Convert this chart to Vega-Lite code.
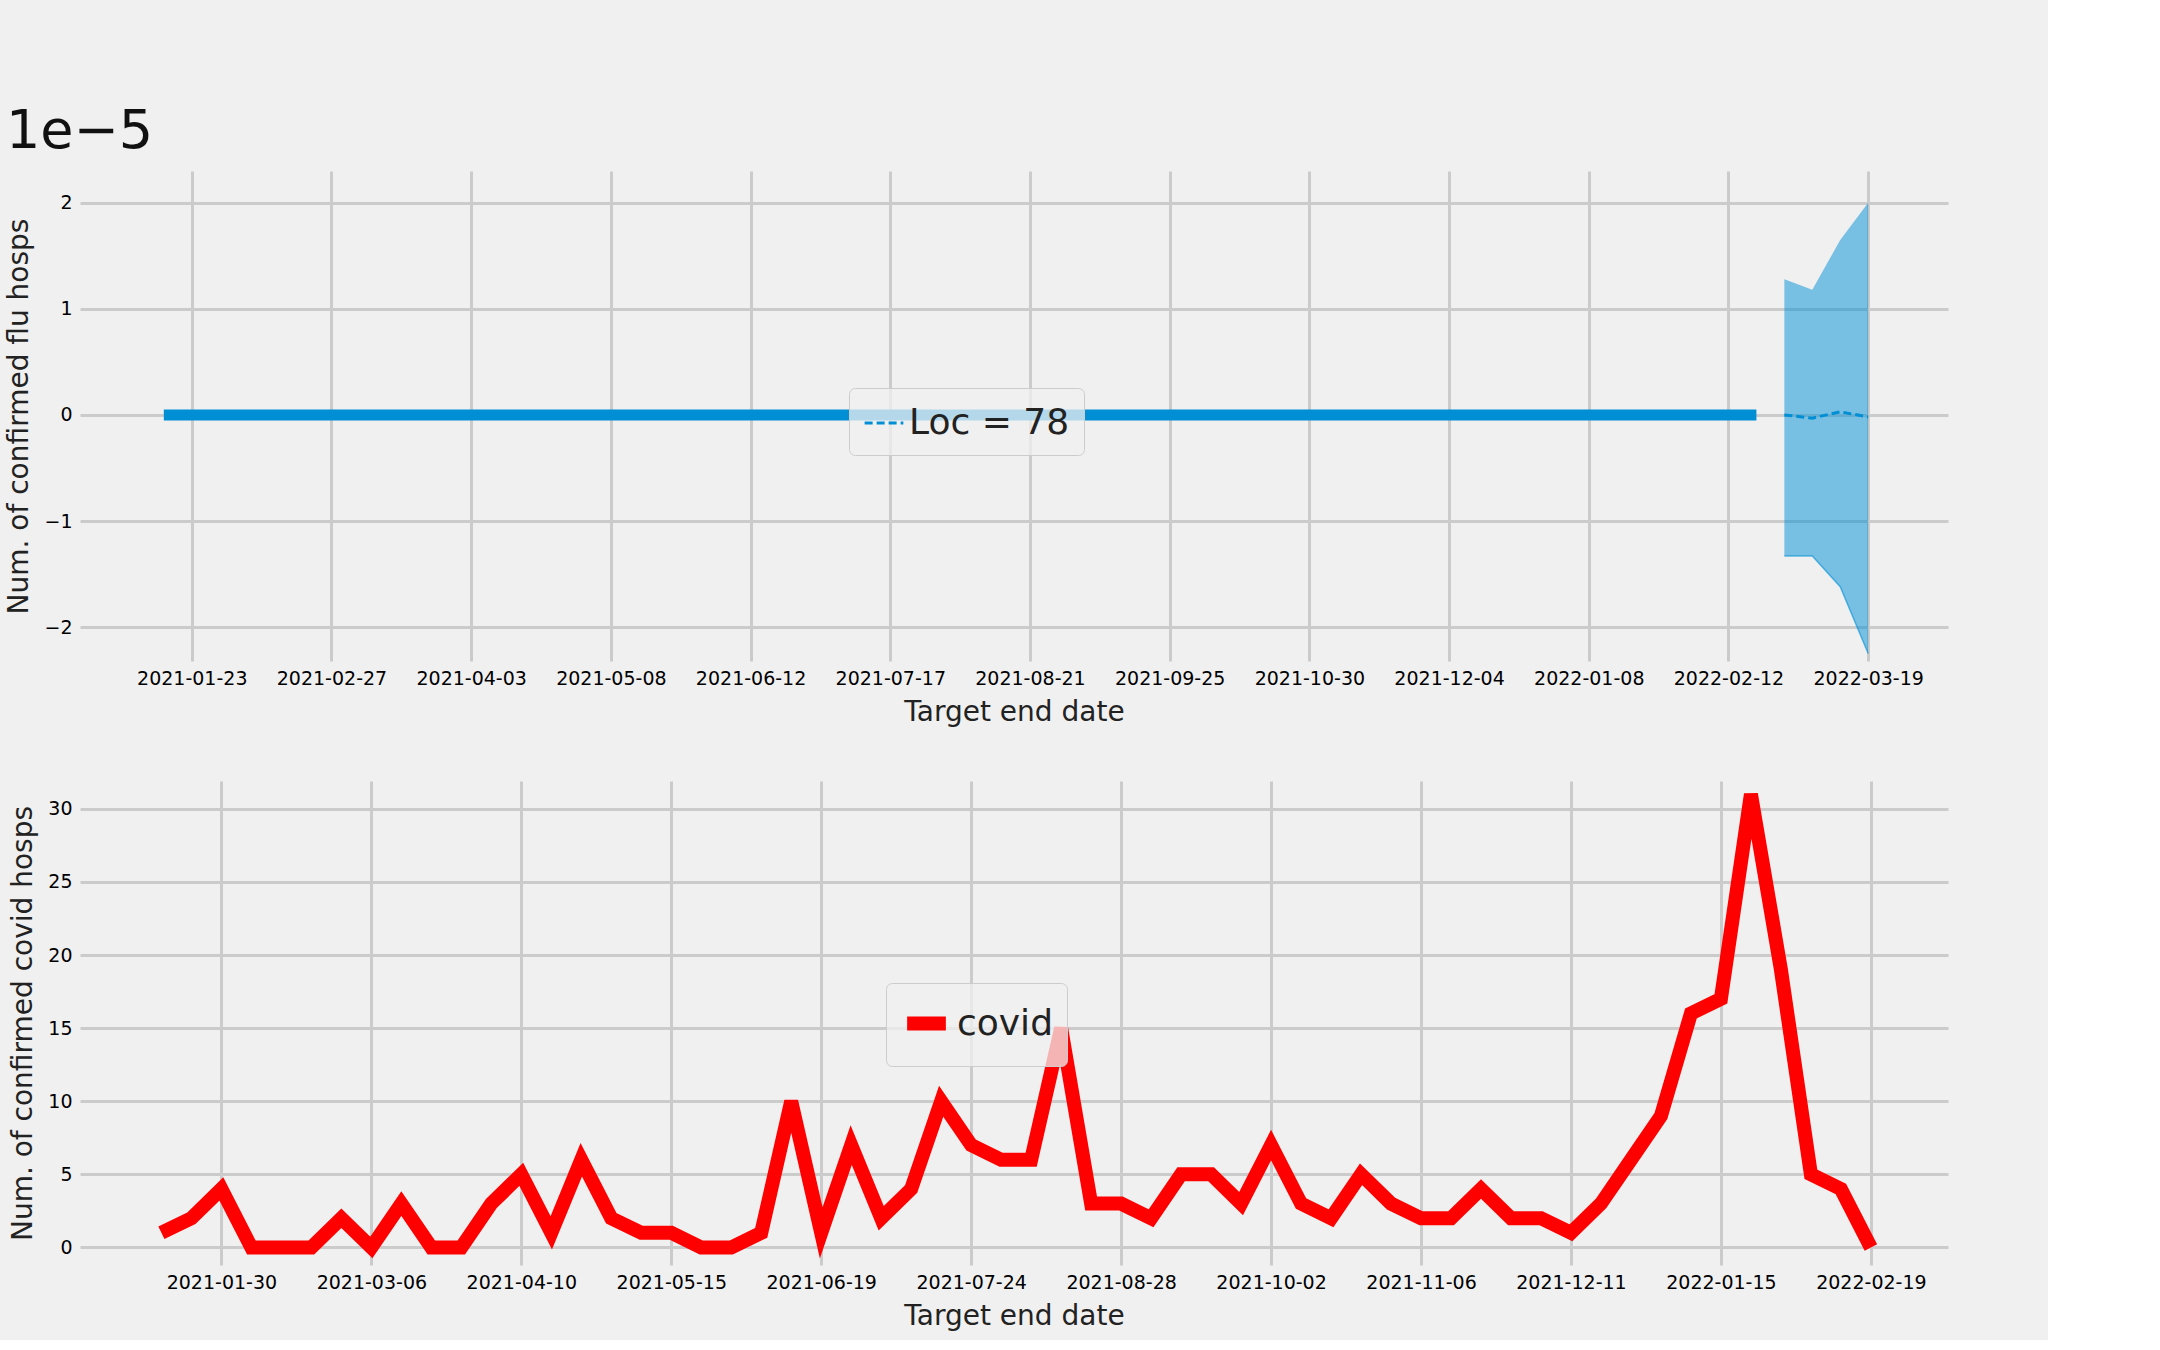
{
  "$schema": "https://vega.github.io/schema/vega-lite/v6.json",
  "background": "#f0f0f0",
  "padding": {"left": 5, "top": 105, "right": 100, "bottom": 10},
  "spacing": 40,
  "config": {
    "font": "DejaVu Sans",
    "view": {"stroke": null},
    "axis": {"gridColor": "#cbcbcb", "gridWidth": 3, "domain": false, "ticks": false, "labelFontSize": 19, "titleFontSize": 28, "titleFontWeight": "normal", "labelColor": "#000", "titleColor": "#222", "labelPadding": 8, "titlePadding": 10},
    "legend": {"orient": "none", "fillColor": "rgba(240,240,240,0.75)", "strokeColor": "#cccccc", "cornerRadius": 6, "padding": 14, "labelFontSize": 36, "labelLimit": 500, "symbolType": "stroke", "symbolSize": 1500, "title": null, "labelColor": "#222"}
  },
  "datasets": {
    "weekly": [
      {"date": "2021-01-16", "flu": 0, "covid": 1},
      {"date": "2021-01-23", "flu": 0, "covid": 2},
      {"date": "2021-01-30", "flu": 0, "covid": 4},
      {"date": "2021-02-06", "flu": 0, "covid": 0},
      {"date": "2021-02-13", "flu": 0, "covid": 0},
      {"date": "2021-02-20", "flu": 0, "covid": 0},
      {"date": "2021-02-27", "flu": 0, "covid": 2},
      {"date": "2021-03-06", "flu": 0, "covid": 0},
      {"date": "2021-03-13", "flu": 0, "covid": 3},
      {"date": "2021-03-20", "flu": 0, "covid": 0},
      {"date": "2021-03-27", "flu": 0, "covid": 0},
      {"date": "2021-04-03", "flu": 0, "covid": 3},
      {"date": "2021-04-10", "flu": 0, "covid": 5},
      {"date": "2021-04-17", "flu": 0, "covid": 1},
      {"date": "2021-04-24", "flu": 0, "covid": 6},
      {"date": "2021-05-01", "flu": 0, "covid": 2},
      {"date": "2021-05-08", "flu": 0, "covid": 1},
      {"date": "2021-05-15", "flu": 0, "covid": 1},
      {"date": "2021-05-22", "flu": 0, "covid": 0},
      {"date": "2021-05-29", "flu": 0, "covid": 0},
      {"date": "2021-06-05", "flu": 0, "covid": 1},
      {"date": "2021-06-12", "flu": 0, "covid": 10},
      {"date": "2021-06-19", "flu": 0, "covid": 1},
      {"date": "2021-06-26", "flu": 0, "covid": 7},
      {"date": "2021-07-03", "flu": 0, "covid": 2},
      {"date": "2021-07-10", "flu": 0, "covid": 4},
      {"date": "2021-07-17", "flu": 0, "covid": 10},
      {"date": "2021-07-24", "flu": 0, "covid": 7},
      {"date": "2021-07-31", "flu": 0, "covid": 6},
      {"date": "2021-08-07", "flu": 0, "covid": 6},
      {"date": "2021-08-14", "flu": 0, "covid": 15},
      {"date": "2021-08-21", "flu": 0, "covid": 3},
      {"date": "2021-08-28", "flu": 0, "covid": 3},
      {"date": "2021-09-04", "flu": 0, "covid": 2},
      {"date": "2021-09-11", "flu": 0, "covid": 5},
      {"date": "2021-09-18", "flu": 0, "covid": 5},
      {"date": "2021-09-25", "flu": 0, "covid": 3},
      {"date": "2021-10-02", "flu": 0, "covid": 7},
      {"date": "2021-10-09", "flu": 0, "covid": 3},
      {"date": "2021-10-16", "flu": 0, "covid": 2},
      {"date": "2021-10-23", "flu": 0, "covid": 5},
      {"date": "2021-10-30", "flu": 0, "covid": 3},
      {"date": "2021-11-06", "flu": 0, "covid": 2},
      {"date": "2021-11-13", "flu": 0, "covid": 2},
      {"date": "2021-11-20", "flu": 0, "covid": 4},
      {"date": "2021-11-27", "flu": 0, "covid": 2},
      {"date": "2021-12-04", "flu": 0, "covid": 2},
      {"date": "2021-12-11", "flu": 0, "covid": 1},
      {"date": "2021-12-18", "flu": 0, "covid": 3},
      {"date": "2021-12-25", "flu": 0, "covid": 6},
      {"date": "2022-01-01", "flu": 0, "covid": 9},
      {"date": "2022-01-08", "flu": 0, "covid": 16},
      {"date": "2022-01-15", "flu": 0, "covid": 17},
      {"date": "2022-01-22", "flu": 0, "covid": 31},
      {"date": "2022-01-29", "flu": 0, "covid": 19},
      {"date": "2022-02-05", "flu": 0, "covid": 5},
      {"date": "2022-02-12", "flu": 0, "covid": 4},
      {"date": "2022-02-19", "flu": 0, "covid": 0}
    ],
    "forecast": [
      {"date": "2022-02-26", "mean": 0, "lo": -1.33, "hi": 1.28, "name": "Loc = 78"},
      {"date": "2022-03-05", "mean": -0.03, "lo": -1.33, "hi": 1.18, "name": "Loc = 78"},
      {"date": "2022-03-12", "mean": 0.03, "lo": -1.62, "hi": 1.65, "name": "Loc = 78"},
      {"date": "2022-03-19", "mean": -0.02, "lo": -2.25, "hi": 2.0, "name": "Loc = 78"}
    ]
  },
  "resolve": {"scale": {"color": "independent"}, "legend": {"color": "independent"}},
  "vconcat": [
    {
      "width": 1868,
      "height": 490,
      "title": {"text": "1e−5", "anchor": "start", "fontSize": 54, "fontWeight": "normal", "offset": 12, "color": "#111"},
      "layer": [
        {
          "data": {"name": "weekly"},
          "mark": {"type": "line", "color": "#008fd5", "strokeWidth": 11},
          "encoding": {
            "x": {"field": "date", "type": "temporal", "scale": {"type": "utc", "domain": [{"year": 2020, "month": 12, "date": 26, "utc": true}, {"year": 2022, "month": 4, "date": 8, "utc": true}]},
              "title": "Target end date",
              "axis": {"labelExpr": "utcFormat(datum.value, '%Y-%m-%d')", "values": [
                {"year": 2021, "month": 1, "date": 23, "utc": true}, {"year": 2021, "month": 2, "date": 27, "utc": true}, {"year": 2021, "month": 4, "date": 3, "utc": true},
                {"year": 2021, "month": 5, "date": 8, "utc": true}, {"year": 2021, "month": 6, "date": 12, "utc": true}, {"year": 2021, "month": 7, "date": 17, "utc": true},
                {"year": 2021, "month": 8, "date": 21, "utc": true}, {"year": 2021, "month": 9, "date": 25, "utc": true}, {"year": 2021, "month": 10, "date": 30, "utc": true},
                {"year": 2021, "month": 12, "date": 4, "utc": true}, {"year": 2022, "month": 1, "date": 8, "utc": true}, {"year": 2022, "month": 2, "date": 12, "utc": true},
                {"year": 2022, "month": 3, "date": 19, "utc": true}]}},
            "y": {"field": "flu", "type": "quantitative", "title": "Num. of confirmed flu hosps",
              "scale": {"domain": [-2.32, 2.3], "nice": false},
              "axis": {"values": [-2, -1, 0, 1, 2], "format": "d"}}
          }
        },
        {
          "data": {"name": "forecast"},
          "mark": {"type": "area", "color": "#008fd5", "opacity": 0.5, "line": {"color": "#008fd5", "strokeWidth": 1.5, "opacity": 0.6}},
          "encoding": {
            "x": {"field": "date", "type": "temporal"},
            "y": {"field": "lo", "type": "quantitative"},
            "y2": {"field": "hi"}
          }
        },
        {
          "data": {"name": "forecast"},
          "mark": {"type": "line", "strokeWidth": 3, "strokeDash": [8, 4]},
          "encoding": {
            "x": {"field": "date", "type": "temporal"},
            "y": {"field": "mean", "type": "quantitative"},
            "color": {"field": "name", "type": "nominal", "scale": {"range": ["#008fd5"]},
              "legend": {"legendX": 769, "legendY": 217, "symbolDash": [8, 4], "symbolStrokeWidth": 3, "symbolSize": 1500}}
          }
        }
      ]
    },
    {
      "width": 1868,
      "height": 484,
      "data": {"name": "weekly"},
      "mark": {"type": "line", "strokeWidth": 14, "strokeJoin": "miter"},
      "encoding": {
        "x": {"field": "date", "type": "temporal", "scale": {"type": "utc", "domain": [{"year": 2020, "month": 12, "date": 28, "utc": true}, {"year": 2022, "month": 3, "date": 9, "utc": true}]},
          "title": "Target end date",
          "axis": {"labelExpr": "utcFormat(datum.value, '%Y-%m-%d')", "values": [
            {"year": 2021, "month": 1, "date": 30, "utc": true}, {"year": 2021, "month": 3, "date": 6, "utc": true}, {"year": 2021, "month": 4, "date": 10, "utc": true},
            {"year": 2021, "month": 5, "date": 15, "utc": true}, {"year": 2021, "month": 6, "date": 19, "utc": true}, {"year": 2021, "month": 7, "date": 24, "utc": true},
            {"year": 2021, "month": 8, "date": 28, "utc": true}, {"year": 2021, "month": 10, "date": 2, "utc": true}, {"year": 2021, "month": 11, "date": 6, "utc": true},
            {"year": 2021, "month": 12, "date": 11, "utc": true}, {"year": 2022, "month": 1, "date": 15, "utc": true}, {"year": 2022, "month": 2, "date": 19, "utc": true}]}},
        "y": {"field": "covid", "type": "quantitative", "title": "Num. of confirmed covid hosps",
          "scale": {"domain": [-1.2, 31.9], "nice": false},
          "axis": {"values": [0, 5, 10, 15, 20, 25, 30]}},
        "color": {"datum": "covid", "type": "nominal", "scale": {"range": ["#ff0000"]},
          "legend": {"legendX": 806, "legendY": 202, "symbolStrokeWidth": 14, "symbolSize": 1500}}
      }
    }
  ]
}
